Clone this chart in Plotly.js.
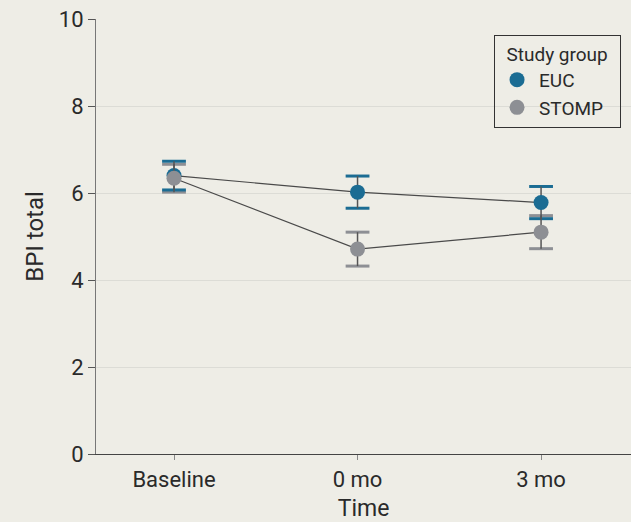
<!DOCTYPE html>
<html><head><meta charset="utf-8">
<script src="https://cdn.plot.ly/plotly-3.0.1.min.js"></script>
<style>html,body{margin:0;padding:0;background:#eeede6;}</style>
</head><body><div id="chart" style="width:631px;height:522px;"></div>
<script>
const categories = ["Baseline", "0 mo", "3 mo"];
const eucMean = [6.40, 6.02, 5.78];
const eucErr = [0.33, 0.37, 0.37];
const stompMean = [6.34, 4.71, 5.10];
const stompErr = [0.32, 0.39, 0.38];
const yTicks = [0, 2, 4, 6, 8, 10];

const blue = "#1b6c93", gray = "#8d8f94", stem = "#555555";
const FONT = "Roboto, sans-serif";

function capTrace(means, errs, sign, color) {
  return {x: categories, y: means.map((m, i) => m + sign * errs[i]), mode: "markers", showlegend: false, hoverinfo: "skip",
    marker: {symbol: "line-ew", size: 17, color: color, line: {color: color, width: 3}}};
}
function mainTrace(name, means, errs, color) {
  return {x: categories, y: means, name: name, mode: "lines+markers", showlegend: false,
    line: {color: "#4a4a4a", width: 1.2},
    marker: {color: color, size: 15},
    error_y: {type: "data", array: errs, visible: true, color: stem, thickness: 1.5, width: 0}};
}
function legendTrace(name, color) {
  return {x: [null], y: [null], name: name, mode: "markers", marker: {color: color, size: 15}};
}
const data = [
  capTrace(stompMean, stompErr, 1, gray), capTrace(stompMean, stompErr, -1, gray),
  capTrace(eucMean, eucErr, 1, blue), capTrace(eucMean, eucErr, -1, blue),
  mainTrace("EUC", eucMean, eucErr, blue),
  mainTrace("STOMP", stompMean, stompErr, gray),
  legendTrace("EUC", blue), legendTrace("STOMP", gray)
];
const layout = {
  width: 631, height: 522,
  margin: {l: 96, r: 0, t: 19, b: 68},
  paper_bgcolor: "#eeede6", plot_bgcolor: "#eeede6",
  font: {family: FONT, size: 22, color: "#2a2a2a"},
  xaxis: {type: "category", range: [-0.425, 2.49], showline: true, linecolor: "#444", linewidth: 1.2,
    ticks: "outside", ticklen: 5, tickcolor: "#888", showgrid: false, zeroline: false,
    title: {text: "Time", standoff: 15, font: {size: 23}}, tickfont: {size: 22}},
  yaxis: {range: [0, 10], tickvals: yTicks, showline: true, linecolor: "#777", linewidth: 1.2,
    ticks: "outside", ticklen: 7, tickcolor: "#555", gridcolor: "#dcdcd6", gridwidth: 1, zeroline: false,
    title: {text: "BPI total", standoff: 8, font: {size: 24}}, tickfont: {size: 22}},
  legend: {x: 0.744, y: 0.963, xanchor: "left", yanchor: "top", bgcolor: "rgba(0,0,0,0)",
    bordercolor: "#333", borderwidth: 1, title: {text: "\u00a0\u00a0Study group\u00a0\u00a0", font: {size: 19}}, font: {size: 19},
    itemwidth: 34, tracegroupgap: 0},
  showlegend: true
};
Plotly.newPlot("chart", data, layout, {displayModeBar: false});
</script></body></html>
